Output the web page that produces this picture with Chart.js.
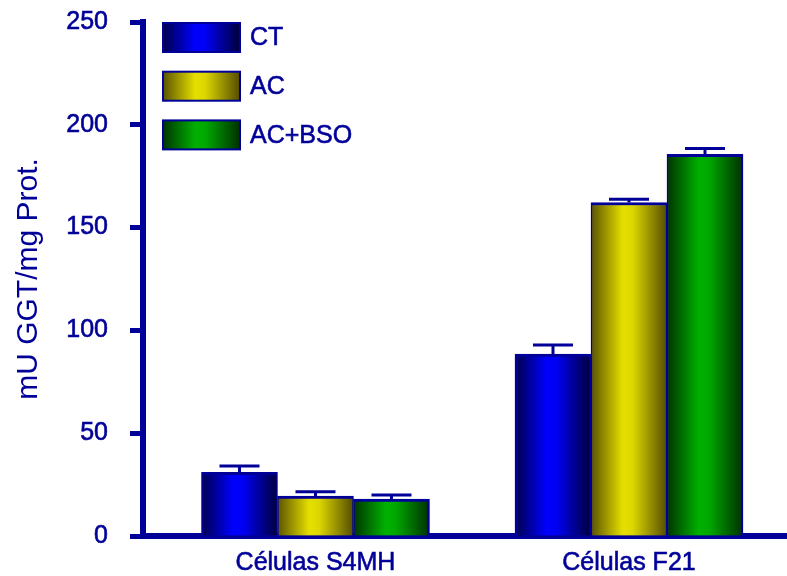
<!DOCTYPE html>
<html>
<head>
<meta charset="utf-8">
<title>Actividad GGT</title>
<script src="https://cdn.jsdelivr.net/npm/chart.js@4.4.1/dist/chart.umd.min.js"></script>
<style>
  html, body { margin: 0; padding: 0; background: #ffffff; }
  #wrap { width: 787px; height: 576px; position: relative; }
</style>
</head>
<body>
<div id="wrap"><canvas id="c" width="787" height="576"></canvas></div>
<script>
// Cell lines on the x axis
const categories = ['Células S4MH', 'Células F21'];
// Treatment groups
const seriesNames = ['CT', 'AC', 'AC+BSO'];
// Mean GGT activity (mU GGT / mg protein)
const ctValues    = [31.0, 88.5];
const acValues    = [19.4, 162.2];
const acBsoValues = [18.0, 185.6];
// Upper error (SEM)
const ctErrors    = [3.0, 4.4];
const acErrors    = [2.1, 1.6];
const acBsoErrors = [1.9, 2.9];
// Y axis ticks
const yTicks = [0, 50, 100, 150, 200, 250];

const INK = '#000099';
const FONT = "'Liberation Sans', Arial, sans-serif";
const BAR_W = 76;

// Horizontal "cylinder" shading for each series: edge, highlight, edge
const shades = [
  ['#00004c', '#0000ff', '#0000f2', '#00003c'],
  ['#5a5200', '#e6e000', '#dcd600', '#544c00'],
  ['#003400', '#00b000', '#00a800', '#003000']
];

function shadeGradient(ctx, x0, x1, s) {
  const g = ctx.createLinearGradient(x0, 0, x1, 0);
  g.addColorStop(0, s[0]);
  g.addColorStop(0.42, s[1]);
  g.addColorStop(0.55, s[2]);
  g.addColorStop(1, s[3]);
  return g;
}

function barFill(dsIndex) {
  return (c) => {
    if (c.type !== 'data') return shades[dsIndex][1];
    const xs = c.chart.scales.x;
    if (!xs) return shades[dsIndex][1];
    const center = xs.getPixelForValue(c.dataIndex) + (dsIndex - 1) * BAR_W;
    if (!isFinite(center)) return shades[dsIndex][1];
    return shadeGradient(c.chart.ctx, center - BAR_W / 2, center + BAR_W / 2, shades[dsIndex]);
  };
}

const valueSets = [ctValues, acValues, acBsoValues];
const errorSets = [ctErrors, acErrors, acBsoErrors];
const borderSides = [
  { top: 3, left: 2.5, right: 1.5, bottom: 0 },
  { top: 3, left: 1.5, right: 1.5, bottom: 0 },
  { top: 3, left: 1.5, right: 2.5, bottom: 0 }
];

const datasets = seriesNames.map((name, i) => ({
  label: name,
  data: valueSets[i].map((v, k) => ({ x: k, y: v })),
  errors: errorSets[i],
  backgroundColor: barFill(i),
  borderColor: INK,
  borderWidth: borderSides[i],
  borderSkipped: false,
  barThickness: BAR_W
}));

// Upward error whiskers with a cap
const errorBars = {
  id: 'errorBars',
  afterDatasetsDraw(chart) {
    const ctx = chart.ctx;
    const ys = chart.scales.y;
    ctx.save();
    ctx.strokeStyle = INK;
    ctx.lineWidth = 3;
    chart.data.datasets.forEach((ds, i) => {
      const meta = chart.getDatasetMeta(i);
      meta.data.forEach((bar, k) => {
        const top = ys.getPixelForValue(ds.data[k].y + ds.errors[k]);
        ctx.beginPath();
        ctx.moveTo(bar.x, bar.y);
        ctx.lineTo(bar.x, top);
        ctx.moveTo(bar.x - 20, top);
        ctx.lineTo(bar.x + 20, top);
        ctx.stroke();
      });
    });
    ctx.restore();
  }
};

// Legend with shaded swatches, stacked in the upper-left of the plot
const shadedLegend = {
  id: 'shadedLegend',
  afterDraw(chart) {
    const ctx = chart.ctx;
    ctx.save();
    chart.data.datasets.forEach((ds, i) => {
      const x = 163, y = 23 + i * 48.7, w = 77, h = 29;
      ctx.fillStyle = shadeGradient(ctx, x, x + w, shades[i]);
      ctx.fillRect(x, y, w, h);
      ctx.strokeStyle = INK;
      ctx.lineWidth = 2;
      ctx.strokeRect(x, y, w, h);
      ctx.fillStyle = INK;
      ctx.font = '25px ' + FONT;
      ctx.textBaseline = 'middle';
      ctx.textAlign = 'left';
      ctx.lineWidth = 0.6;
      ctx.strokeText(ds.label, 250, y + h / 2 + 1);
      ctx.fillText(ds.label, 250, y + h / 2 + 1);
    });
    ctx.restore();
  }
};

new Chart(document.getElementById('c'), {
  type: 'bar',
  data: { datasets },
  options: {
    responsive: false,
    animation: false,
    events: [],
    layout: { padding: { top: 22, right: 0, bottom: 0, left: 0 } },
    plugins: { legend: { display: false }, tooltip: { enabled: false } },
    scales: {
      x: {
        type: 'linear',
        offset: false,
        min: -0.5502,
        max: 1.504,
        afterFit(scale) {
          scale.height = 40;
          scale.paddingLeft = 0;
          scale.paddingRight = 0;
        },
        afterBuildTicks(scale) { scale.ticks = categories.map((_, i) => ({ value: i })); },
        grid: { display: true, offset: false, drawOnChartArea: false, drawTicks: false },
        border: { display: true, color: INK, width: 6 },
        ticks: {
          color: INK,
          font: { family: FONT, size: 25 },
          textStrokeColor: INK,
          textStrokeWidth: 0.6,
          padding: 12,
          maxRotation: 0,
          autoSkip: false,
          callback: (v) => categories[v]
        }
      },
      y: {
        min: 0,
        max: 250,
        afterFit(scale) {
          scale.width = 143;
          scale.paddingTop = 0;
          scale.paddingBottom = 0;
        },
        afterBuildTicks(scale) { scale.ticks = yTicks.map(v => ({ value: v })); },
        grid: { drawOnChartArea: false, drawTicks: true, tickLength: 13, tickWidth: 5, tickColor: INK },
        border: { display: true, color: INK, width: 6 },
        ticks: {
          color: INK,
          font: { family: FONT, size: 25 },
          textStrokeColor: INK,
          textStrokeWidth: 0.6,
          padding: 22
        },
        title: {
          display: true,
          text: 'mU GGT/mg Prot.',
          color: INK,
          font: { family: FONT, size: 30 },
          padding: { top: 11, bottom: 0 }
        }
      }
    }
  },
  plugins: [errorBars, shadedLegend]
});
</script>
</body>
</html>
